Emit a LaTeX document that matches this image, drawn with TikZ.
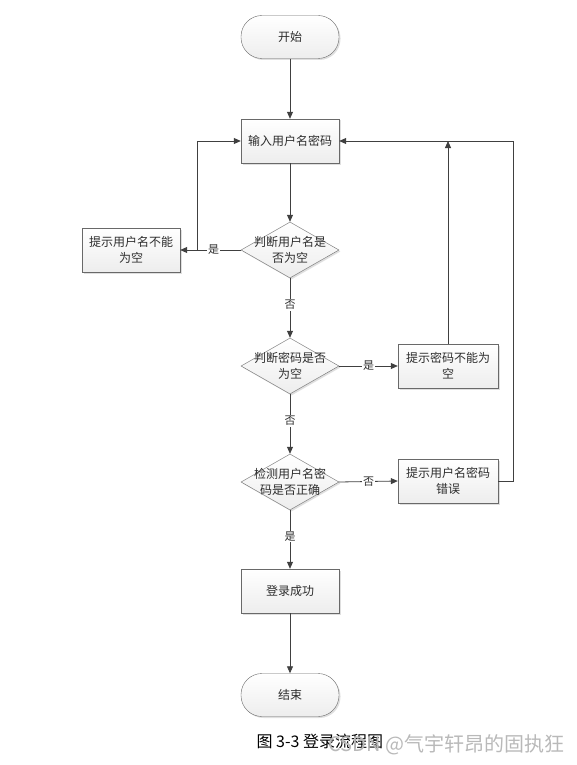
\documentclass[tikz,border=0pt]{standalone}
\usepackage{fontspec}
\setmainfont{Noto Sans CJK SC}
\usetikzlibrary{arrows.meta,positioning,shapes.geometric,shadows}
\definecolor{linegray}{RGB}{64,64,64}
\definecolor{boxgray}{RGB}{105,105,105}
\definecolor{textgray}{RGB}{45,45,45}
\definecolor{markgray}{RGB}{185,185,185}

\begin{document}
\begin{tikzpicture}[x=1pt,y=-1pt,
    base/.style={draw=boxgray, top color=white, bottom color=gray!14, text=textgray, align=center,
      font=\fontsize{12}{16}\selectfont, drop shadow={opacity=0.25,shadow xshift=1.5pt,shadow yshift=-1.5pt}},
    proc/.style={base, rectangle, minimum width=98pt, minimum height=44pt, inner sep=2pt},
    term/.style={base, rectangle, rounded corners=21pt, minimum width=98pt, minimum height=43pt},
    decision/.style={base, diamond, minimum width=98pt, minimum height=56pt, inner sep=0pt},
    dtext/.style={text=textgray, align=center, font=\fontsize{12}{16}\selectfont},
    arr/.style={draw=linegray, line width=0.8pt, -{Triangle[length=7pt,width=6pt]}},
    lbl/.style={fill=white, text=textgray, font=\fontsize{11}{13}\selectfont, inner sep=1pt}]
  \useasboundingbox (0,0) rectangle (576,765);
  % main column
  \node[term] (start) at (290,37) {开始};
  \node[proc] (input) at (290,141) {输入用户名密码};
  \node[decision, label={[dtext]center:{判断用户名是\\否为空}}] (d1) at (290,250) {};
  \node[decision, label={[dtext]center:{判断密码是否\\为空}}] (d2) at (290,366) {};
  \node[decision, label={[dtext]center:{检测用户名密\\码是否正确}}] (d3) at (290,482) {};
  \node[proc] (ok) at (290,591) {登录成功};
  \node[term] (stop) at (290,695) {结束};
  % side boxes
  \node[proc] (nouser) at (131,250) {提示用户名不能\\为空};
  \node[proc, minimum width=100pt] (nopass) at (448,366) {提示密码不能为\\空};
  \node[proc, minimum width=100pt] (wrong) at (448,481) {提示用户名密码\\错误};
  \coordinate (lk) at (197,250);
  \coordinate (rk) at (513,481);
  % connectors
  \draw[arr] (start) -- (input);
  \draw[arr] (input) -- (d1);
  \draw[arr] (d1) -- node[lbl, pos=0.45] {否} (d2);
  \draw[arr] (d2) -- node[lbl, pos=0.45] {否} (d3);
  \draw[arr] (d3) -- node[lbl, pos=0.45] {是} (ok);
  \draw[arr] (ok) -- (stop);
  \draw[arr] (d1.west) -- node[lbl, pos=0.45] {是} (nouser.east);
  \draw[arr] (d2.east) -- node[lbl] {是} (nopass.west);
  \draw[arr] (d3.east) -- node[lbl] {否} (wrong.west);
  \draw[arr] (lk) |- (input.west);
  \draw[arr] (wrong.east) -- (rk) |- (input.east);
  \draw[arr] (nopass.north) -- (nopass.north |- input.east);
  % caption
  \node[anchor=west, font=\fontsize{16}{18}\selectfont] (cap) at (253,741) {图 3-3 登录流程图};
  \node[anchor=west, text=markgray, font=\fontsize{20}{22}\selectfont] (mark) at (325,745) {CSDN @气宇轩昂的固执狂};
\end{tikzpicture}
\end{document}
